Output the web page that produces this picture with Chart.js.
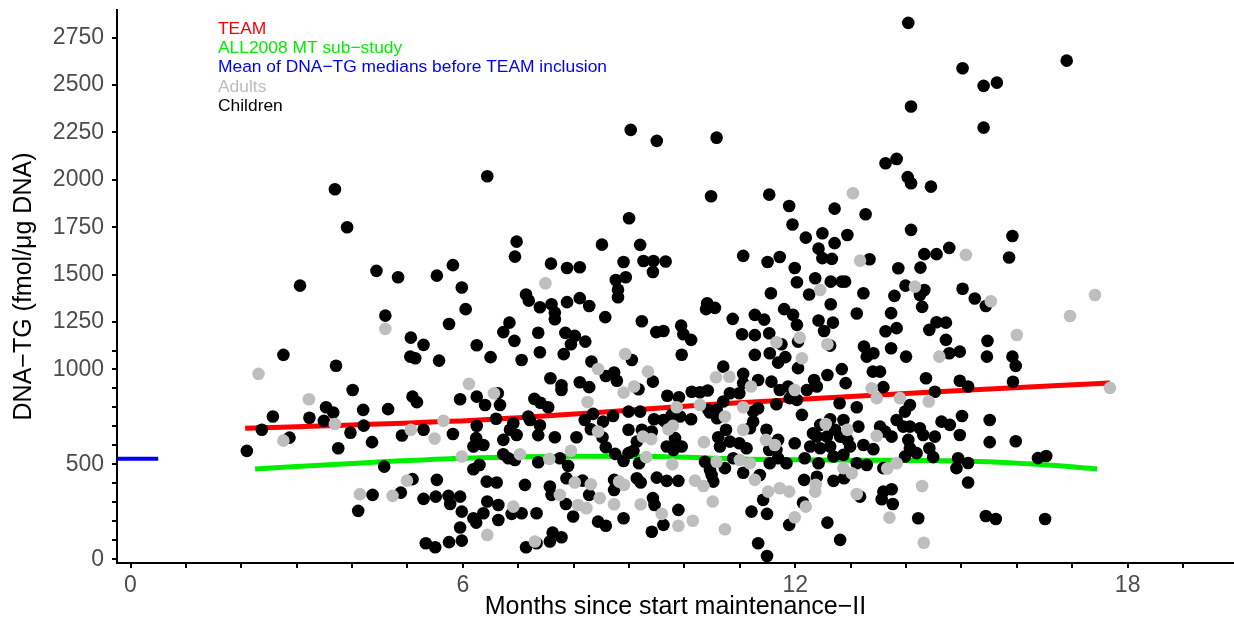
<!DOCTYPE html>
<html>
<head>
<meta charset="utf-8">
<script src="https://cdn.jsdelivr.net/npm/chart.js@4.4.1/dist/chart.umd.min.js"></script>
<style>
  html, body { margin: 0; padding: 0; background: #fff; }
</style>
</head>
<body>
<canvas id="chart" width="1234" height="628"></canvas>
<script>
// children (black dots): [months, DNA-TG]
const children = [
  [3.69,1950],[3.91,1750],[3.06,1442],[4.44,1520],[4.83,1486],[5.53,1495],[5.82,1550],[5.98,1432],[6.05,1318],[5.75,1240],
  [4.60,1284],[5.06,1168],[5.29,1130],[6.25,1128],[2.76,1077],[5.05,1068],[5.14,1059],[5.57,1047],
  [3.71,1020],[4.01,892],[2.57,752],[3.23,746],[3.53,801],[3.66,773],[3.49,729],[4.20,787],[4.65,791],[5.09,857],[5.17,828],
  [5.95,843],[6.25,857],[2.37,682],[2.87,641],[2.10,571],[3.75,585],[3.97,667],[4.21,704],[4.36,617],[4.90,652],[5.29,682],
  [5.82,660],[6.25,703],[6.24,638],[6.19,594],[6.19,474],[4.58,488],[5.09,422],[5.53,418],[4.37,339],[4.88,351],[4.11,255],
  [5.29,318],[5.51,330],[5.74,334],[5.95,330],[5.77,291],[5.98,251],[6.19,216],[6.24,193],[5.95,167],[5.33,84],[5.50,63],
  [5.75,90],[5.98,98],
  [6.44,2019],[10.48,1913],[9.00,1797],[6.97,1674],[6.94,1595],[8.51,1658],[9.20,1657],[7.59,1558],[7.88,1535],[8.11,1539],
  [8.90,1567],[9.26,1572],[9.44,1572],[9.66,1569],[9.43,1514],[8.76,1472],[8.94,1486],[8.80,1420],[8.80,1381],[7.14,1395],
  [7.19,1363],[7.39,1328],[7.60,1344],[7.66,1300],[7.66,1265],[7.88,1355],[8.11,1376],[8.28,1335],[8.57,1276],[9.23,1254],
  [10.41,1349],[10.55,1325],[10.39,1318],[6.84,1247],[6.73,1197],[6.93,1151],[7.36,1194],[7.85,1193],[8.02,1177],[7.95,1133],
  [8.21,1147],[9.49,1197],[9.62,1203],[9.94,1231],[9.98,1186],[10.12,1156],[6.50,1065],[7.06,1050],[7.39,1091],[7.82,1081],
  [9.05,1050],[9.95,1078],[8.32,1042],
  [9.03,2263],[9.50,2205],[14.04,2827],
  [8.73,984],[8.58,966],[8.78,941],[9.43,936],[10.70,1015],[7.58,954],[7.78,917],[7.78,892],[8.11,933],[8.28,907],
  [6.63,875],[6.40,813],[6.67,813],[9.17,896],[9.69,862],[9.90,854],[10.13,883],[10.28,880],[10.42,889],[7.29,845],
  [7.40,825],[7.54,801],[10.43,787],[10.58,787],[6.60,740],[6.91,717],[7.18,752],[7.21,734],[7.39,706],[8.20,734],
  [8.35,766],[8.53,725],[8.71,755],[8.99,778],[9.20,778],[9.45,738],[9.62,734],[9.77,761],[9.92,752],[10.12,738],
  [10.46,773],[6.37,602],[6.73,629],[6.85,682],[6.97,655],[7.36,654],[7.66,643],[8.05,643],[8.31,685],[8.52,643],
  [8.99,682],[9.23,682],[9.41,673],[9.65,725],[9.83,638],[9.14,620],[6.30,497],[6.73,553],[6.82,532],[6.94,523],
  [7.36,511],[7.75,532],[7.90,492],[8.58,590],[8.75,555],[8.90,518],[8.99,559],[9.08,572],[9.18,506],[9.68,594],
  [9.80,576],[9.95,594],[10.37,514],[10.46,471],[6.43,409],[6.61,404],[7.12,392],[7.57,383],[7.87,427],[8.16,414],
  [8.73,418],[8.73,365],[9.14,427],[9.21,404],[9.50,430],[9.68,413],[9.89,413],[10.49,444],[6.44,304],[6.64,286],
  [7.60,339],[7.86,291],[8.28,339],[6.88,239],[7.06,242],[7.33,242],[7.99,225],[9.43,322],[9.46,286],[9.89,260],
  [6.37,242],[6.64,207],[8.44,198],[8.58,176],[8.90,216],[9.62,181],[9.41,145],[7.62,140],[7.57,93],[7.78,116],
  [7.33,84],[7.14,63],
  [14.09,2386],[10.58,2222],[13.63,2087],[13.83,2110],[14.03,2014],[14.09,1982],[14.45,1964],[11.53,1922],[11.89,1862],[12.71,1848],
  [13.27,1818],[11.95,1764],[14.09,1736],[12.19,1695],[12.49,1718],[12.94,1709],[12.71,1666],[12.42,1637],[12.49,1587],[12.66,1583],
  [13.34,1581],[11.06,1599],[11.50,1567],[11.72,1593],[11.99,1535],[14.78,1641],[14.55,1608],[14.33,1608],[13.86,1534],[14.26,1537],
  [12.03,1460],[12.36,1481],[12.64,1463],[12.84,1463],[12.90,1463],[13.99,1442],[14.33,1419],[14.25,1393],[12.25,1395],[11.56,1402],
  [13.23,1402],[13.79,1388],[14.29,1330],[12.64,1344],[11.80,1318],[11.96,1288],[12.03,1235],[13.11,1295],[13.73,1297],[10.87,1267],
  [11.27,1288],[11.44,1263],[12.42,1258],[12.68,1247],[12.52,1203],[11.04,1186],[11.27,1181],[11.53,1191],[13.63,1202],[13.83,1218],
  [14.42,1209],[14.55,1249],[14.72,1247],[14.72,1156],[11.75,1133],[12.05,1147],[12.63,1126],[13.24,1121],[13.73,1112],[11.27,1077],
  [11.54,1086],[11.82,1065],[13.41,1086],[14.00,1068],[14.78,1086],
  [11.69,1036],[12.05,1007],[11.06,977],[11.06,928],[11.33,945],[11.57,936],[11.72,892],[11.87,910],[12.21,892],[12.03,840],
  [11.90,849],[12.34,945],[12.58,971],[12.84,1002],[12.91,928],[12.39,910],[13.29,1068],[13.40,989],[13.53,989],[14.36,954],
  [14.97,941],[15.12,910],[13.59,907],[14.52,883],[12.80,822],[13.11,801],[14.07,813],[13.98,778],[10.82,875],[10.99,875],
  [10.70,831],[10.59,743],[11.24,778],[11.33,796],[11.66,817],[12.12,761],[11.24,725],[11.18,690],[10.75,682],[10.61,643],
  [10.64,594],[10.82,620],[10.99,611],[11.12,585],[11.48,682],[11.69,629],[11.99,611],[11.53,576],[11.66,576],[12.32,664],
  [12.45,708],[12.63,738],[12.87,734],[13.14,699],[12.72,682],[12.39,646],[12.57,646],[12.81,646],[12.94,629],[13.53,699],
  [13.83,734],[13.95,699],[14.07,699],[14.25,690],[14.64,725],[14.79,708],[14.97,655],[14.52,646],[14.31,655],[14.04,629],
  [13.74,646],[13.62,673],[12.27,594],[12.45,585],[12.63,594],[12.99,594],[13.23,602],[13.41,580],[14.07,585],[14.42,585],
  [10.73,480],[10.88,532],[11.06,456],[11.54,506],[11.69,532],[11.84,506],[12.17,532],[12.42,506],[12.69,541],[12.87,550],
  [13.11,506],[13.29,497],[13.59,480],[13.98,541],[14.19,559],[14.49,538],[14.94,532],[14.91,480],[10.52,409],[11.36,444],
  [12.16,418],[12.39,435],[12.69,413],[12.88,427],[11.42,313],[13.17,330],[13.59,356],[13.74,369],[13.56,316],[13.76,291],
  [15.12,404],[11.21,251],[11.49,239],[12.14,298],[11.89,181],[12.58,193],[14.22,216],[11.33,84],[12.81,102],[11.49,17],
  [15.02,2588],[15.40,2495],[15.64,2512],[16.90,2628],[15.40,2275],[15.92,1704],[15.86,1590],[15.02,1426],[15.24,1374],[15.44,1335],
  [15.47,1151],[14.97,1094],[15.46,1068],[15.92,1068],
  [15.01,755],[15.51,734],[15.98,1019],[15.93,935],[15.51,617],[15.98,622],[15.12,507],[16.38,533],[16.53,544],[15.44,228],
  [15.62,212],[16.51,212]
];

// adults (grey dots)
const adults = [
  [4.60,1214],[2.31,977],[3.22,843],[3.69,713],[6.11,924],[2.76,625],[5.06,682],[5.65,729],[5.49,636],[5.98,541],
  [4.99,414],[4.14,343],[4.73,334],[7.49,1455],[8.93,1082],
  [8.44,1003],[9.34,989],[10.57,959],[6.56,875],[8.25,829],[8.90,878],[9.09,910],[9.86,801],[10.28,813],[8.44,673],
  [9.25,646],[9.40,633],[9.71,685],[9.79,703],[10.35,617],[7.03,553],[7.56,529],[7.95,572],[9.31,538],[9.78,501],
  [10.58,514],[8.02,404],[8.31,395],[8.82,409],[8.91,392],[10.19,414],[10.34,386],[7.75,339],[8.47,322],[8.08,286],
  [8.23,269],[6.91,277],[8.73,290],[9.21,290],[9.59,239],[10.51,304],[9.89,176],[10.15,203],[6.44,128],[7.30,93],
  [13.04,1929],[13.17,1574],[14.16,1437],[12.45,1419],[11.66,1144],[12.08,1168],[12.58,1133],[14.60,1068],[12.12,1059],
  [10.81,962],[11.20,910],[11.99,892],[13.38,901],[13.47,849],[13.89,849],[14.41,831],[10.73,752],[11.06,801],[11.06,682],
  [11.47,629],[11.63,602],[12.55,713],[12.94,682],[13.47,650],[11.00,523],[11.18,506],[12.87,480],[13.02,453],[13.66,478],
  [13.83,506],[11.27,418],[12.37,392],[11.51,356],[11.72,374],[11.89,356],[12.36,356],[13.11,344],[14.29,386],[12.19,277],
  [11.99,221],[13.70,219],[10.73,158],[14.32,87],
  [15.08,1604],[15.53,1360],[17.41,1393],[16.96,1282],[16.00,1182],[17.68,903]
];

// fitted curves
const teamFit = [[2.07,690],[4.0,708],[6.3,734],[8.5,775],[10.6,818],[13.0,858],[15.15,892],[17.68,929]];
const all2008Fit = [[2.25,476],[4.0,505],[6.0,532],[8.0,543],[9.5,541],[11.0,528],[13.0,522],[15.0,518],[16.5,498],[17.45,476]];
const preTeamMean = [[-0.24,529],[0.5,529]];

// axis ticks
const xTicks = [0,1,2,3,4,5,6,7,8,9,10,11,12,13,14,15,16,17,18,19];
const xLabels = [0,6,12,18];
const yTicks = [0,100,200,300,400,500,600,700,800,900,1000,1100,1250,1500,1750,2000,2250,2500,2750];
const yLabels = [0,500,1000,1250,1500,1750,2000,2250,2500,2750];

const legendItems = [
  ['TEAM', '#ff0000'],
  ['ALL2008 MT sub\u2212study', '#00ee00'],
  ['Mean of DNA\u2212TG medians before TEAM inclusion', '#0000ff'],
  ['Adults', '#bebebe'],
  ['Children', '#000000']
];

const FONT = '"Liberation Sans", Arial, Helvetica, sans-serif';
const toXY = arr => arr.map(p => ({x: p[0], y: p[1]}));

// text legend in the top-left corner of the panel
const textLegend = {
  id: 'textLegend',
  afterDatasetsDraw(chart) {
    const ctx = chart.ctx;
    const left = chart.chartArea.left + 101;
    ctx.save();
    ctx.font = '17.4px ' + FONT;
    ctx.textBaseline = 'middle';
    ctx.textAlign = 'left';
    legendItems.forEach((item, i) => {
      ctx.fillStyle = item[1];
      ctx.fillText(item[0], left, 29.5 + i * 19.1);
    });
    ctx.restore();
  }
};

const axisGrid = {drawOnChartArea: false, drawTicks: true, tickLength: 5, color: '#000', lineWidth: 2};

new Chart(document.getElementById('chart'), {
  type: 'scatter',
  data: {
    datasets: [
      {
        type: 'line', label: 'TEAM', data: toXY(teamFit),
        borderColor: '#ff0000', borderWidth: 5, pointRadius: 0,
        cubicInterpolationMode: 'monotone', order: 10
      },
      {
        type: 'line', label: 'ALL2008', data: toXY(all2008Fit),
        borderColor: '#00ee00', borderWidth: 5, pointRadius: 0,
        cubicInterpolationMode: 'monotone', order: 10
      },
      {
        type: 'line', label: 'Mean', data: toXY(preTeamMean),
        borderColor: '#0000ff', borderWidth: 4, pointRadius: 0, order: 10
      },
      {
        label: 'Children', data: toXY(children),
        pointRadius: 6.3, pointHoverRadius: 6.3, borderWidth: 0,
        backgroundColor: '#000000', order: 2
      },
      {
        label: 'Adults', data: toXY(adults),
        pointRadius: 6.3, pointHoverRadius: 6.3, borderWidth: 0,
        backgroundColor: '#bebebe', order: 1
      }
    ]
  },
  options: {
    responsive: false,
    devicePixelRatio: 1,
    animation: false,
    layout: {autoPadding: false, padding: {top: 10, right: 0, left: 0, bottom: 0}},
    plugins: {legend: {display: false}, tooltip: {enabled: false}},
    scales: {
      x: {
        type: 'linear', min: -0.244, max: 19.92,
        afterBuildTicks: s => { s.ticks = xTicks.map(v => ({value: v})); },
        afterFit: s => { s.height = 65; s.paddingLeft = 0; s.paddingRight = 0; },
        ticks: {
          autoSkip: false, maxRotation: 0, padding: 4,
          color: '#4d4d4d', font: {family: FONT, size: 23},
          callback: v => xLabels.includes(v) ? String(v) : ''
        },
        grid: axisGrid,
        border: {display: true, color: '#000', width: 2},
        title: {
          display: true, text: 'Months since start maintenance\u2212II',
          color: '#000', font: {family: FONT, size: 25}, padding: {top: 0, bottom: 6}
        }
      },
      y: {
        type: 'linear', min: -20, max: 2895,
        afterBuildTicks: s => { s.ticks = yTicks.map(v => ({value: v})); },
        afterFit: s => { s.width = 117; s.paddingTop = 0; s.paddingBottom = 0; },
        ticks: {
          autoSkip: false, padding: 8,
          color: '#4d4d4d', font: {family: FONT, size: 23},
          callback: v => yLabels.includes(v) ? String(v) : ''
        },
        grid: axisGrid,
        border: {display: true, color: '#000', width: 2},
        title: {
          display: true, text: 'DNA\u2212TG (fmol/\u03bcg DNA)',
          color: '#000', font: {family: FONT, size: 25}, padding: {top: 9, bottom: 0}
        }
      }
    }
  },
  plugins: [textLegend]
});
</script>
</body>
</html>
